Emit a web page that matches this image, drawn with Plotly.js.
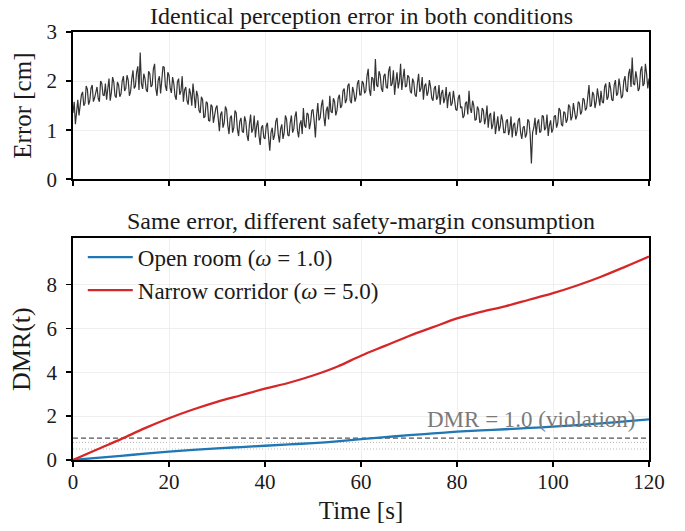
<!DOCTYPE html>
<html>
<head>
<meta charset="utf-8">
<script src="https://cdn.plot.ly/plotly-3.0.1.min.js"></script>
<style>html,body{margin:0;padding:0;background:#fff;}#chart{width:685px;height:531px;}</style>
</head>
<body>
<div id="chart"></div>
<script>
// ---- Data ----
const errDt = 0.25; // sampling step of the error series [s]
const errorCm = [
  1.35, 1.58, 1.12, 1.40, 1.62, 1.30, 1.48, 1.72, 1.78, 1.50, 1.55, 1.90, 1.83, 1.52, 1.60, 1.85, 1.92, 1.58, 1.66, 1.80,
  1.88, 1.65, 1.58, 2.00, 1.95, 1.72, 1.70, 1.95, 1.62, 1.85, 2.05, 1.60, 1.77, 2.08, 1.98, 1.70, 1.66, 1.98, 1.92, 1.68,
  1.74, 2.00, 2.10, 1.80, 1.85, 2.12, 2.02, 1.70, 1.79, 2.05, 2.22, 1.85, 1.90, 2.18, 2.30, 1.82, 2.58, 1.95, 1.84, 2.15,
  2.05, 1.82, 1.78, 2.20, 2.15, 1.88, 1.92, 2.25, 2.35, 1.85, 1.70, 2.02, 2.10, 1.75, 1.98, 2.30, 2.28, 1.90, 1.80, 2.18,
  2.12, 1.85, 1.76, 2.08, 1.95, 1.70, 1.62, 1.98, 2.05, 1.72, 1.80, 2.10, 1.58, 1.82, 1.88, 1.60, 1.52, 1.85, 1.74, 1.50,
  1.95, 1.62, 1.45, 1.80, 1.70, 1.40, 1.35, 1.68, 1.62, 1.25, 1.28, 1.58, 1.55, 1.20, 1.18, 1.52, 1.48, 1.15, 1.30, 1.45,
  1.50, 1.20, 0.98, 1.32, 1.38, 1.05, 1.15, 1.48, 1.42, 1.10, 0.92, 1.25, 1.30, 0.95, 1.05, 1.40, 1.35, 1.02, 0.88, 1.18,
  1.25, 0.98, 0.95, 1.28, 1.18, 0.90, 0.78, 1.12, 1.32, 0.95, 1.02, 1.30, 0.85, 1.08, 1.20, 0.88, 0.70, 1.05, 1.10, 0.85,
  0.82, 1.08, 1.15, 0.85, 0.58, 0.95, 1.05, 0.80, 0.90, 1.18, 1.25, 0.92, 0.75, 1.02, 1.12, 0.82, 0.95, 1.30, 1.22, 0.90,
  0.88, 1.15, 1.30, 0.95, 1.02, 1.28, 1.38, 1.00, 0.85, 1.12, 1.20, 0.92, 1.45, 1.10, 1.05, 1.35, 1.32, 1.02, 1.15, 1.40,
  1.42, 1.18, 0.85, 1.30, 1.55, 1.20, 1.25, 1.50, 1.62, 1.28, 1.08, 1.40, 1.48, 1.22, 1.70, 1.38, 1.35, 1.65, 1.58, 1.30,
  1.40, 1.65, 1.72, 1.45, 1.50, 1.80, 1.85, 1.55, 1.62, 1.90, 1.95, 1.60, 1.55, 1.88, 1.78, 1.58, 1.68, 1.95, 2.02, 1.72,
  1.72, 2.00, 1.95, 1.75, 1.80, 2.10, 2.25, 1.82, 1.70, 2.08, 2.05, 1.80, 2.45, 1.92, 1.88, 2.20, 2.12, 1.85, 1.78, 2.10,
  2.15, 1.88, 1.85, 2.20, 2.30, 1.90, 1.95, 2.22, 1.72, 1.98, 2.18, 1.85, 2.00, 2.35, 1.82, 2.05, 2.25, 1.88, 1.90, 2.12,
  2.08, 1.80, 1.75, 2.05, 1.98, 1.72, 1.68, 1.95, 2.15, 1.78, 1.85, 2.08, 1.62, 1.90, 1.95, 1.70, 1.78, 2.02, 1.88, 1.65,
  1.60, 1.85, 1.90, 1.62, 1.68, 1.92, 1.52, 1.75, 1.82, 1.55, 1.65, 1.88, 1.45, 1.70, 1.78, 1.50, 1.55, 1.80, 1.62, 1.42,
  1.40, 1.65, 1.72, 1.45, 1.48, 1.25, 1.30, 1.55, 1.58, 1.32, 1.80, 1.45, 1.35, 1.60, 1.50, 1.20, 1.22, 1.48, 1.42, 1.15,
  1.18, 1.45, 1.40, 1.12, 1.25, 1.50, 1.05, 1.30, 1.35, 1.02, 1.12, 1.38, 0.92, 1.15, 1.28, 0.98, 1.08, 1.32, 1.20, 0.95,
  0.95, 1.18, 1.22, 0.90, 1.02, 1.28, 0.85, 1.10, 1.15, 0.88, 0.98, 1.20, 1.25, 0.95, 0.82, 1.05, 1.08, 0.85, 0.92, 1.22,
  1.18, 0.90, 0.32, 0.95, 1.05, 1.25, 0.90, 1.15, 1.22, 0.95, 0.98, 1.30, 1.28, 1.00, 1.05, 1.32, 0.88, 1.10, 1.20, 0.95,
  1.02, 1.28, 1.30, 1.05, 1.15, 1.45, 1.40, 1.12, 1.08, 1.38, 1.35, 1.15, 1.22, 1.52, 1.48, 1.20, 1.28, 1.55, 1.42, 1.22,
  1.30, 1.58, 1.55, 1.32, 1.38, 1.65, 1.62, 1.40, 1.45, 1.70, 1.92, 1.48, 1.50, 1.78, 1.72, 1.45, 1.58, 1.85, 1.68, 1.50,
  1.80, 1.58, 1.55, 1.88, 1.95, 1.62, 1.68, 1.98, 1.85, 1.62, 1.60, 1.92, 2.02, 1.70, 1.75, 2.05, 1.88, 1.65, 1.70, 2.00,
  2.10, 1.82, 1.78, 2.15, 2.25, 1.88, 2.48, 1.95, 1.92, 2.20, 2.05, 1.80, 1.85, 2.22, 2.30, 1.90, 1.95, 2.35, 2.15, 1.85,
  2.05
];
const errTime = errorCm.map((_, i) => i * errDt);

const dmrTime = [0, 5, 10, 15, 20, 25, 30, 35, 40, 45, 50, 55, 60, 65, 70, 75, 80, 85, 90, 95, 100, 105, 110, 115, 120];
const dmrOpen = [0, 0.10, 0.19, 0.29, 0.38, 0.46, 0.53, 0.59, 0.65, 0.71, 0.77, 0.85, 0.95, 1.04, 1.13, 1.21, 1.29, 1.35, 1.40, 1.46, 1.52, 1.59, 1.67, 1.76, 1.85];
const dmrNarrow = [0, 0.48, 0.95, 1.45, 1.90, 2.30, 2.65, 2.95, 3.25, 3.52, 3.85, 4.25, 4.75, 5.20, 5.65, 6.05, 6.45, 6.75, 7.00, 7.30, 7.60, 7.95, 8.35, 8.80, 9.27];

const seriesNames = ['Open room (<i>ω</i> = 1.0)', 'Narrow corridor (<i>ω</i> = 5.0)'];
const violationLevel = 1.0;
const dottedLevels = [0.8, 0.5];
const xTicks = [0, 20, 40, 60, 80, 100, 120];
const errTicks = [0, 1, 2, 3];
const dmrTicks = [0, 2, 4, 6, 8];

const titles = ['Identical perception error in both conditions', 'Same error, different safety-margin consumption'];

// ---- Styling ----
const FONT = 'Liberation Serif, DejaVu Serif, serif';
const TXT = '#1a1a1a';
const axisCommon = {
  showline: true, linecolor: '#000', linewidth: 1.8, mirror: true,
  ticks: 'outside', ticklen: 5, tickwidth: 1.5, tickcolor: '#000',
  showgrid: true, gridcolor: '#ebebeb', gridwidth: 0.8,
  zeroline: false, ticklabelstandoff: 5,
  tickfont: {family: FONT, size: 21, color: TXT}
};

const traces = [
  {x: errTime, y: errorCm, xaxis: 'x', yaxis: 'y', type: 'scatter', mode: 'lines',
   line: {color: '#333333', width: 1.2}, showlegend: false, hoverinfo: 'skip'},
  {x: dmrTime, y: dmrOpen, xaxis: 'x2', yaxis: 'y2', type: 'scatter', mode: 'lines',
   name: seriesNames[0], line: {color: '#1f77b4', width: 2.3, shape: 'spline'}},
  {x: dmrTime, y: dmrNarrow, xaxis: 'x2', yaxis: 'y2', type: 'scatter', mode: 'lines',
   name: seriesNames[1], line: {color: '#d62728', width: 2.3, shape: 'spline'}}
];

const shapes = [
  {type: 'line', xref: 'x2 domain', yref: 'y2', x0: 0, x1: 1, y0: violationLevel, y1: violationLevel,
   line: {color: '#555', width: 1.2, dash: '5px,3px'}, layer: 'below'}
].concat(dottedLevels.map(v => ({
  type: 'line', xref: 'x2 domain', yref: 'y2', x0: 0, x1: 1, y0: v, y1: v,
  line: {color: '#b0b0b0', width: 0.9, dash: '1px,2px'}, layer: 'below'
})));

const layout = {
  width: 685, height: 531,
  margin: {l: 73, r: 36, t: 32, b: 71},
  paper_bgcolor: '#fff', plot_bgcolor: '#fff',
  font: {family: FONT, color: TXT},
  showlegend: true,
  legend: {x: 0.017, y: 0.524, xanchor: 'left', yanchor: 'top', bgcolor: 'rgba(255,255,255,0)',
           itemwidth: 45, font: {family: FONT, size: 23, color: TXT}},
  xaxis: Object.assign({}, axisCommon, {domain: [0, 1], anchor: 'y', range: [0, 120], tickvals: xTicks, showticklabels: false}),
  yaxis: Object.assign({}, axisCommon, {domain: [0.656, 1], anchor: 'x', range: [0, 3], tickvals: errTicks,
    title: {text: 'Error [cm]', font: {family: FONT, size: 25, color: TXT}, standoff: 8}}),
  xaxis2: Object.assign({}, axisCommon, {domain: [0, 1], anchor: 'y2', range: [0, 120], tickvals: xTicks,
    ticklabelstandoff: -3,
    title: {text: 'Time [s]', font: {family: FONT, size: 25, color: TXT}, standoff: 8}}),
  yaxis2: Object.assign({}, axisCommon, {domain: [0, 0.518], anchor: 'x2', range: [0, 10.1], tickvals: dmrTicks,
    title: {text: 'DMR(t)', font: {family: FONT, size: 26, color: TXT}, standoff: 8}}),
  shapes: shapes,
  annotations: [
    {text: titles[0], xref: 'paper', yref: 'paper', x: 0.5, y: 1.0374, xanchor: 'center', yanchor: 'middle',
     showarrow: false, font: {family: FONT, size: 24, color: TXT}},
    {text: titles[1], xref: 'paper', yref: 'paper', x: 0.5, y: 0.558, xanchor: 'center', yanchor: 'middle',
     showarrow: false, font: {family: FONT, size: 24, color: TXT}},
    {text: 'DMR = 1.0 (violation)', xref: 'x2', yref: 'y2', x: 117.4, y: 1.86, xanchor: 'right', yanchor: 'middle',
     showarrow: false, font: {family: FONT, size: 23, color: '#7a7a7a'}}
  ]
};

Plotly.newPlot('chart', traces, layout, {displayModeBar: false, staticPlot: true});
</script>
</body>
</html>
